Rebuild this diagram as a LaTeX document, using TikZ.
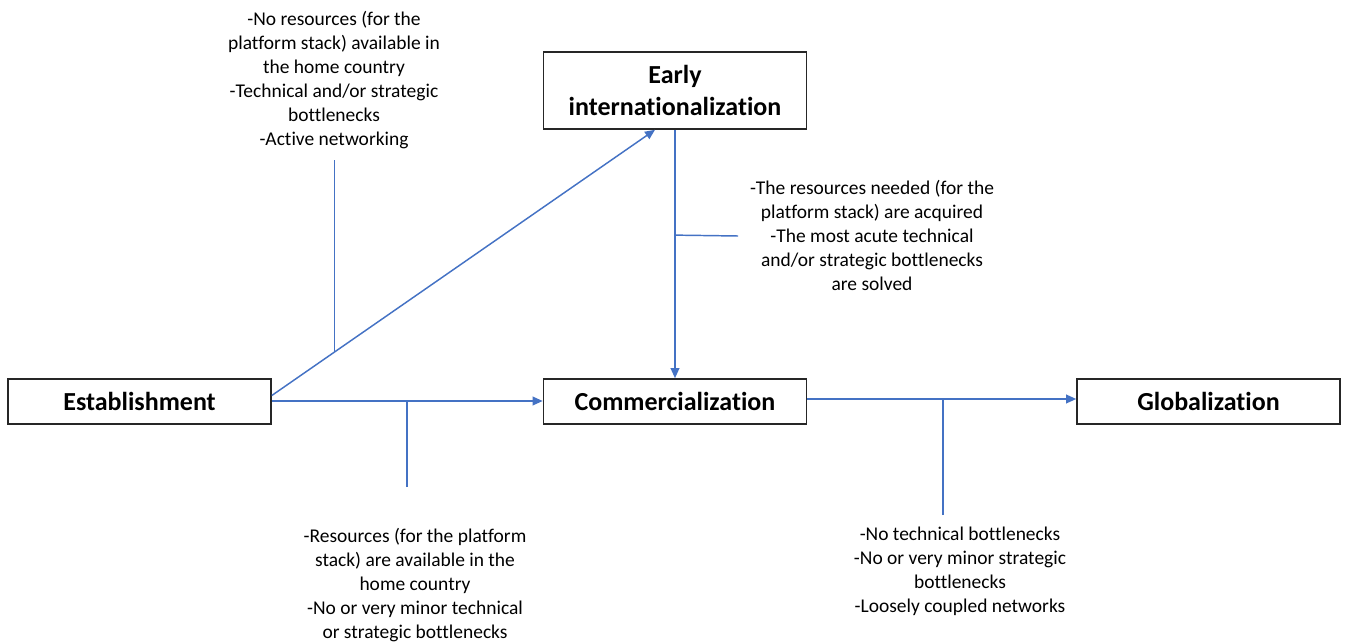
\documentclass[tikz,border=0pt]{standalone}
\usepackage{fontspec}
\setmainfont[Ligatures=NoCommon]{Carlito}
\usetikzlibrary{arrows.meta,calc}
\definecolor{myblue}{HTML}{4472C4}
\definecolor{boxline}{HTML}{262626}
\begin{document}
\begin{tikzpicture}[x=0.75pt,y=-0.75pt,
  box/.style={draw=boxline, line width=1.2pt, fill=white, minimum width=197.25pt,
    minimum height=33.75pt, font=\fontsize{19.5}{24}\selectfont\bfseries, align=center, inner sep=0pt},
  conn/.style={draw=myblue, line width=1.1pt},
  arr/.style={conn, -{Triangle[length=7.5pt,width=6.5pt]}},
  note/.style={font=\fontsize{14.6}{18}\selectfont, align=center, inner sep=0pt}]
\useasboundingbox (0,0) rectangle (1346,642);
% boxes
\node[box] (est) at (139.5,401.5) {Establishment};
\node[box] (com) at (675,401.5) {Commercialization};
\node[box] (glo) at (1208.5,401.5) {Globalization};
\node[box, minimum height=57.75pt] (early) at (675,90.5) {Early\\internationalization};
% notes
\node[note] (n1) at (334,80) {-No resources (for the\\platform stack) available in\\the home country\\-Technical and/or strategic\\bottlenecks\\-Active networking};
\node[note] (n2) at (872,235) {-The resources needed (for the\\platform stack) are acquired\\-The most acute technical\\and/or strategic bottlenecks\\are solved};
\node[note] (n3) at (415,585) {-Resources (for the platform\\stack) are available in the\\home country\\-No or very minor technical\\or strategic bottlenecks};
\node[note] (n4) at (960,571) {-No technical bottlenecks\\-No or very minor strategic\\bottlenecks\\-Loosely coupled networks};
% connectors
\coordinate (d1) at ($(est.east)+(0,-6)$);
\coordinate (d2) at ($(early.south)+(-20,0)$);
\draw[arr] (d1) -- (d2);
\draw[arr] ($(est.east)+(0,-0.5)$) -- ($(com.west)+(0,-0.5)$);
\draw[arr] (early.south) -- (com.north);
\coordinate (c1) at ($(com.east)+(0,-2.5)$);
\coordinate (c2) at ($(glo.west)+(0,-2.5)$);
\draw[arr] (c1) -- (c2);
% annotation ticks
\coordinate (t1) at (334,160);
\coordinate (b1) at ($(d1)!0.164!(d2)$);
\draw[conn] (b1) -- (b1 |- t1);
\coordinate (m1) at ($(early.south)!0.424!(com.north)$);
\coordinate (m2) at (738,236);
\draw[conn] (m1) -- (m2);
\coordinate (e1) at (407,487);
\draw[conn] (e1) -- (e1 |- est.east);
\coordinate (g1) at (943,515);
\draw[conn] (g1) -- (g1 |- c1);
\end{tikzpicture}
\end{document}
